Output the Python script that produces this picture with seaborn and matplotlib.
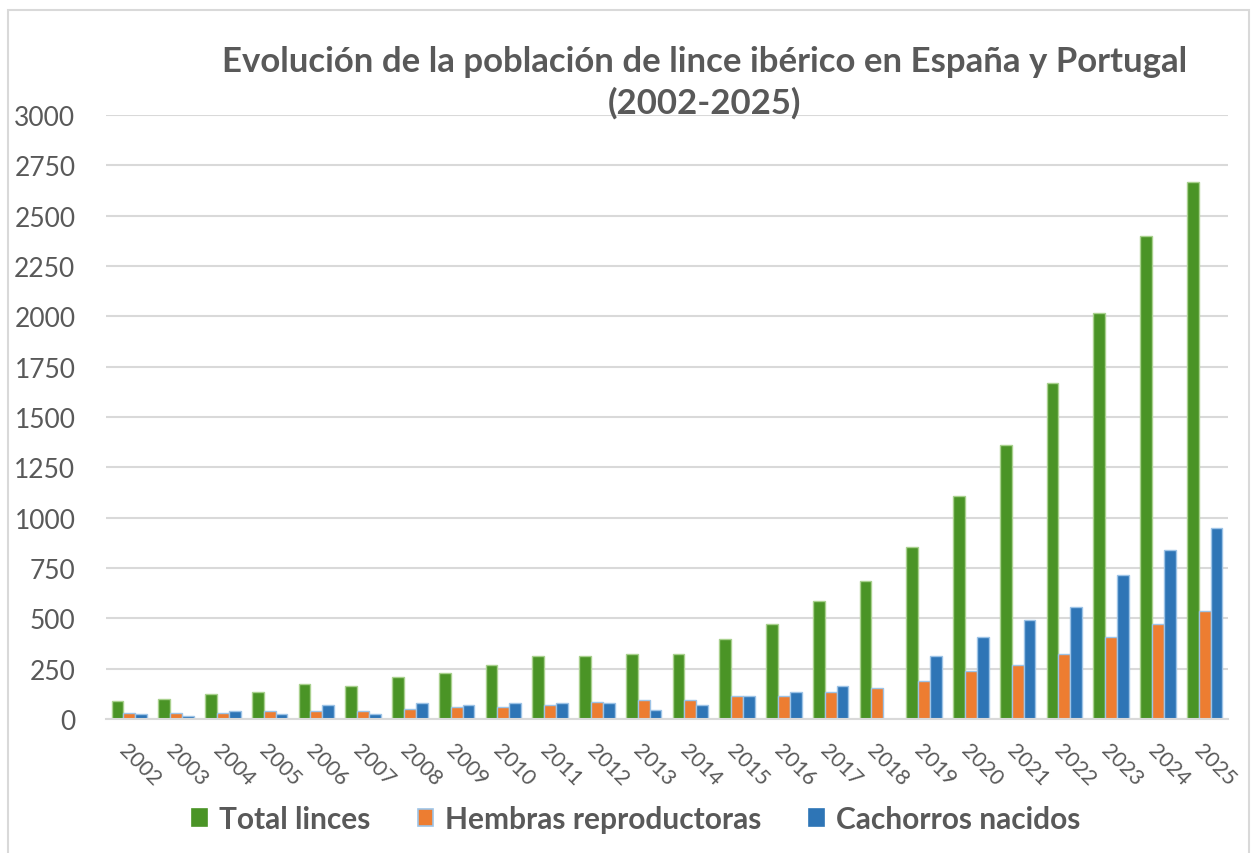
import matplotlib
matplotlib.use("Agg")
import matplotlib.pyplot as plt
import seaborn as sns
import pandas as pd
import numpy as np
from matplotlib.patches import Rectangle, Patch

years = [str(y) for y in range(2002, 2026)]
total_linces = [90, 100, 122, 133, 174, 164, 207, 227, 270, 312, 312, 322, 322, 397, 472, 588, 684, 852, 1108, 1362, 1669, 2018, 2401, 2666]
hembras = [30, 30, 30, 40, 40, 40, 51, 61, 61, 71, 83, 93, 93, 116, 116, 135, 154, 187, 238, 270, 323, 409, 473, 536]
cachorros = [26, 16, 38, 26, 70, 26, 80, 70, 80, 80, 80, 46, 70, 113, 133, 164, np.nan, 313, 407, 493, 555, 714, 841, 947]
series = ["Total linces", "Hembras reproductoras", "Cachorros nacidos"]
title_lines = ["Evolución de la población de lince ibérico en España y Portugal", "(2002-2025)"]

colors = ["#4A9426", "#ED7D31", "#2E75B6"]
edges = ["#A9D18E", "#9DC3E6", "#9DC3E6"]

df = pd.DataFrame({
    "Año": years * 3,
    "Valor": total_linces + hembras + cachorros,
    "Serie": [series[0]] * 24 + [series[1]] * 24 + [series[2]] * 24,
})

sns.set_theme(style="white")
plt.rcParams["font.family"] = ["Lato", "DejaVu Sans"]

fig = plt.figure(figsize=(12.53, 8.54), dpi=100)
ax = fig.add_axes([106 / 1253, 1 - 720 / 854, (1228 - 106) / 1253, (720 - 116) / 854])

sns.barplot(data=df, x="Año", y="Valor", hue="Serie", hue_order=series,
            palette=colors, width=0.76, gap=0.0, ax=ax, legend=False,
            errorbar=None, saturation=1)

for cont, ec in zip(ax.containers, edges):
    for bar in cont:
        bar.set_edgecolor(ec)
        bar.set_linewidth(1.0)

ax.set_ylim(0, 3000)
ax.set_xlim(-0.5, 23.5)
ax.set_yticks(np.arange(0, 3001, 250))
ax.yaxis.grid(True, color="#D9D9D9", linewidth=1.5)
ax.set_axisbelow(True)
for s in ["top", "right", "left"]:
    ax.spines[s].set_visible(False)
ax.spines["bottom"].set_color("#D9D9D9")
ax.spines["bottom"].set_linewidth(1.5)
ax.set_xlabel("")
ax.set_ylabel("")
ax.tick_params(axis="y", length=0, pad=22, labelsize=19, labelcolor="#595959")
ax.tick_params(axis="x", length=0, pad=15, labelsize=15.5, labelcolor="#595959")
for lab in ax.get_xticklabels():
    lab.set_rotation(-45)
    lab.set_ha("left")
    lab.set_va("top")
    lab.set_rotation_mode("anchor")

fig.text(0.562, 1 - 62 / 854, title_lines[0], ha="center", va="center",
         fontsize=25, fontweight="bold", color="#595959")
fig.text(0.562, 1 - 103 / 854, title_lines[1], ha="center", va="center",
         fontsize=25, fontweight="bold", color="#595959")

handles = [Patch(facecolor=c, edgecolor=e, linewidth=1.2) for c, e in zip(colors, edges)]
handles[0].set_edgecolor(colors[0])
handles[2].set_edgecolor(colors[2])
leg = fig.legend(handles, series, loc="center", bbox_to_anchor=(0.508, 1 - 820 / 854),
                 ncol=3, frameon=False, handlelength=0.5, handleheight=0.5,
                 handletextpad=0.4, columnspacing=1.6,
                 prop={"size": 21.5, "weight": "bold"})
for t in leg.get_texts():
    t.set_color("#595959")

fig.patches.append(Rectangle((8 / 1253, -0.1), (1249 - 8) / 1253, 1.1 - 11 / 854,
                             transform=fig.transFigure, fill=False,
                             edgecolor="#D9D9D9", linewidth=1.5))

fig.savefig("out.png", dpi=100)
